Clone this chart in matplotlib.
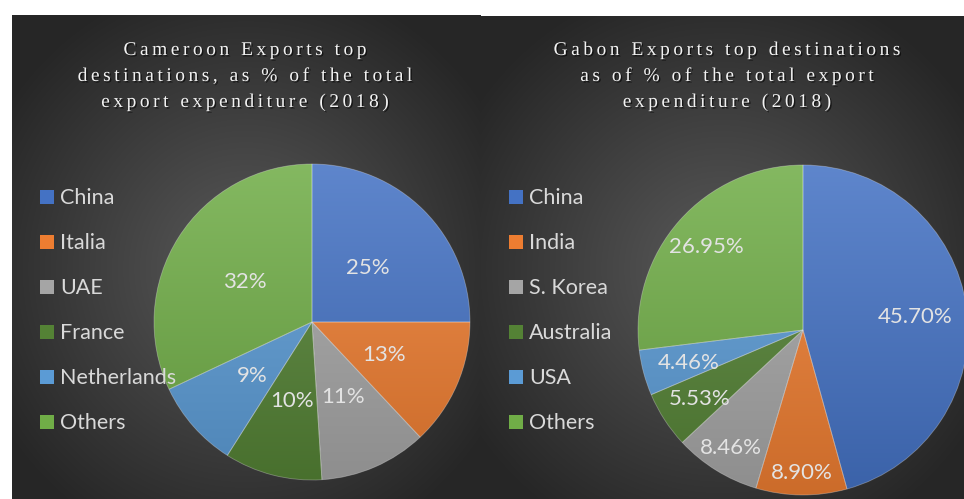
import numpy as np
import matplotlib
matplotlib.use("Agg")
import matplotlib.pyplot as plt
from matplotlib import font_manager, patheffects
from matplotlib.colors import to_rgb
from matplotlib.ft2font import FT2Font
from matplotlib.patches import Rectangle

W, H = 964, 499

# Cameroon, 2018
cmr_title = ["Cameroon Exports top", "destinations, as % of the total",
             "export expenditure (2018)"]
cmr_labels = ["China", "Italia", "UAE", "France", "Netherlands", "Others"]
cmr_values = [25, 13, 11, 10, 9, 32]

# Gabon, 2018
gab_title = ["Gabon Exports top destinations", "as of % of the total export",
             "expenditure (2018)"]
gab_labels = ["China", "India", "S. Korea", "Australia", "USA", "Others"]
gab_values = [45.70, 8.90, 8.46, 5.53, 4.46, 26.95]

slice_colors = ["#4472C4", "#ED7D31", "#A5A5A5", "#548235", "#5B9BD5", "#70AD47"]

TITLE_FONT = "Liberation Serif"
BODY_FONT = "Lato"


def panel_background(ax, x0, x1, y0, y1, cx, cy):
    nx, ny = int(x1 - x0), int(y1 - y0)
    xs = np.linspace(x0, x1, nx)
    ys = np.linspace(y0, y1, ny)
    X, Y = np.meshgrid(xs, ys)
    d = np.sqrt(((X - cx) / (0.62 * (x1 - x0))) ** 2 + ((Y - cy) / (0.62 * (y1 - y0))) ** 2)
    d = np.clip(d, 0, 1)
    inner = np.array(to_rgb("#5a5a5a"))
    outer = np.array(to_rgb("#262626"))
    img = inner[None, None, :] * (1 - d[..., None]) + outer[None, None, :] * d[..., None]
    ax.imshow(img, extent=(x0, x1, y0, y1), origin="lower", aspect="auto",
              zorder=0, interpolation="bilinear")


def tracked_text(ax, xc, y, s, size, tracking, color):
    # letter-spaced title line, one glyph at a time
    path = font_manager.findfont(font_manager.FontProperties(family=TITLE_FONT))
    font = FT2Font(path)
    font.set_size(size, 100)
    advs = []
    for ch in s:
        g = font.load_char(ord(ch))
        advs.append(g.linearHoriAdvance / 65536)
    total = sum(advs) + tracking * (len(s) - 1)
    x = xc - total / 2
    shadow = [patheffects.withSimplePatchShadow(offset=(1, -1), shadow_rgbFace="black",
                                                alpha=0.6)]
    for ch, a in zip(s, advs):
        if ch != " ":
            ax.text(x, y, ch, ha="left", va="baseline", fontsize=size,
                    family=TITLE_FONT, color=color, path_effects=shadow, zorder=6)
        x += a + tracking


def gradient_pie(ax, values, center, radius, label_fracs, fmt):
    wedges, _ = ax.pie(values, colors=slice_colors, startangle=90, counterclock=False,
                       center=center, radius=radius,
                       wedgeprops=dict(edgecolor=(1, 1, 1, 0.3), linewidth=0.6))
    cx, cy = center
    t = np.linspace(0, 1, 256)[:, None]
    for w, col in zip(wedges, slice_colors):
        base = np.array(to_rgb(col))
        top = base + (1 - base) * 0.14
        bottom = base * 0.86
        grad = bottom[None, None, :] * (1 - t[..., None]) + top[None, None, :] * t[..., None]
        grad = np.repeat(grad, 2, axis=1)
        im = ax.imshow(grad, extent=(cx - radius, cx + radius, cy - radius, cy + radius),
                       origin="lower", aspect="auto", zorder=2, interpolation="bilinear")
        im.set_clip_path(w)
        w.set_facecolor("none")
        w.set_zorder(3)

    for w, v, frac in zip(wedges, values, label_fracs):
        mid = np.deg2rad((w.theta1 + w.theta2) / 2)
        lx = cx + frac * radius * np.cos(mid)
        ly = cy + frac * radius * np.sin(mid)
        ax.text(lx, ly - 8, fmt.format(v), ha="center", va="baseline", fontsize=16,
                family=BODY_FONT, color="#e3e3e3", zorder=5)
    return wedges


def legend_block(ax, x, y_base, labels):
    for i, (lab, col) in enumerate(zip(labels, slice_colors)):
        yb = y_base - 45 * i
        ax.add_patch(Rectangle((x, yb - 1), 14, 14, facecolor=col, edgecolor="none",
                               zorder=7))
        ax.text(x + 20, yb - 1, lab, ha="left", va="baseline", fontsize=15.5,
                family=BODY_FONT, color="#d9d9d9", zorder=7)


fig = plt.figure(figsize=(W / 100, H / 100), dpi=100)
ax = fig.add_axes([0, 0, 1, 1])
fig.patch.set_facecolor("white")

# dark chart areas
panel_background(ax, 12, 481, 0, 484, 246, 230)
panel_background(ax, 481, 964, 0, 483, 722, 230)

gradient_pie(ax, cmr_values, (312, 177), 158, [0.5] * 6, "{:.0f}%")
gradient_pie(ax, gab_values, (803, 169), 165,
             [0.685, 0.855, 0.825, 0.75, 0.72, 0.78], "{:.2f}%")

legend_block(ax, 40, 296, cmr_labels)
legend_block(ax, 509, 296, gab_labels)

for i, line in enumerate(cmr_title):
    tracked_text(ax, 245, 444 - 26 * i, line, 14, 3.5, "#f2f2f2")
for i, line in enumerate(gab_title):
    tracked_text(ax, 727, 444 - 26 * i, line, 14, 3.5, "#f2f2f2")

ax.set_aspect("auto")
ax.set_xlim(0, W)
ax.set_ylim(0, H)
ax.axis("off")

fig.savefig("out.png", dpi=100)
